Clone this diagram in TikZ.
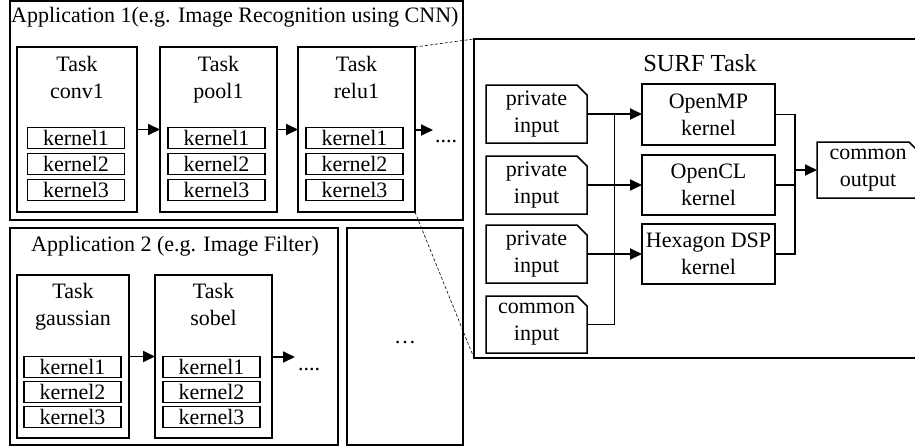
\documentclass[tikz,border=0pt]{standalone}
\usepackage{fontspec}
\setmainfont{Liberation Serif}
\usetikzlibrary{arrows.meta,calc}

\tikzset{
  frame/.style={draw, line width=1.5pt, inner sep=0pt, outer sep=0pt, anchor=north west, align=center},
  kbox/.style={draw, line width=1.8pt, inner sep=0pt, outer sep=0pt, minimum height=21pt},
  doc/.style={inner sep=0pt, outer sep=0pt, anchor=north west, align=center, minimum width=101pt, minimum height=58pt},
  lbl/.style={inner sep=0pt, align=center},
  tasklbl/.style={lbl, text depth=0pt},
  conn/.style={line width=1.8pt},
  arr/.style={conn, -{Triangle[length=12pt,width=11pt]}},
  zoomline/.style={line width=0.6pt, dash pattern=on 3pt off 2pt},
}

% outline of a data node: rectangle with its top right corner cut off
\newcommand\docframe[1]{%
  \draw[line width=1.5pt] (#1.south west) -- (#1.north west)
    -- ([xshift=-10pt]#1.north east) -- ([yshift=-10pt]#1.north east)
    -- (#1.south east) -- cycle;}

\begin{document}
\begin{tikzpicture}[x=1pt,y=-1pt,font=\fontsize{22}{27}\selectfont]
\useasboundingbox (0,0) rectangle (915,447);
\clip (0,0) rectangle (915,447);

% ---------------- Application 1 ----------------
\node[frame, minimum width=453pt, minimum height=219pt] (app1) at (10,1) {};
\node[lbl, anchor=west] (app1title) at (11,17) {Application 1(e.g. Image Recognition using CNN)};

\node[frame, minimum width=120pt, minimum height=165pt] (conv1) at (17,47) {};
\node[frame, minimum width=117pt, minimum height=165pt] (pool1) at (160,47) {};
\node[frame, minimum width=117pt, minimum height=165pt] (relu1) at (298,47) {};
\node[tasklbl] (conv1name) at ($(conv1.north)+(0,30)$) {Task\\conv1};
\node[tasklbl] (pool1name) at ($(pool1.north)+(0,30)$) {Task\\pool1};
\node[tasklbl] (relu1name) at ($(relu1.north)+(0,30)$) {Task\\relu1};

\foreach \t/\cx in {conv1/76, pool1/216.5, relu1/354.5}
  \foreach \k/\cy in {1/138, 2/164, 3/190}
    \node[kbox, minimum width=97pt] (\t-k\k) at (\cx,\cy) {kernel\k};

\draw[arr] (conv1.east) -- (pool1.west);
\draw[arr] (pool1.east) -- (relu1.west);
\coordinate (more1) at (433,130);
\draw[arr] (relu1.east |- more1) -- (more1);
\node[lbl, anchor=base] (dots1) at (446,142) {....};

% ---------------- Application 2 ----------------
\node[frame, minimum width=328pt, minimum height=217pt] (app2) at (10,228) {};
\node[lbl] (app2title) at (175,246) {Application 2 (e.g. Image Filter)};

\node[frame, minimum width=112pt, minimum height=163pt] (gauss) at (17,275) {};
\node[frame, minimum width=117pt, minimum height=163pt] (sobel) at (155,275) {};
\node[tasklbl] (gaussname) at ($(gauss.north)+(0,29.5)$) {Task\\gaussian};
\node[tasklbl] (sobelname) at ($(sobel.north)+(0,29.5)$) {Task\\sobel};

\foreach \t/\cx in {gauss/72.5, sobel/211.5}
  \foreach \k/\cy in {1/367, 2/392, 3/417}
    \node[kbox, minimum width=97pt] (\t-k\k) at (\cx,\cy) {kernel\k};

\draw[arr] (gauss.east) -- (sobel.west);
\coordinate (more2) at (295,357);
\draw[arr] (sobel.east |- more2) -- (more2);
\node[lbl, anchor=base] (dots2) at (309,370) {....};

% ---------------- further applications ----------------
\node[frame, minimum width=116pt, minimum height=217pt] (others) at (347,228) {};
\node[lbl] (othersdots) at (405,343) {…};

% ---------------- SURF task ----------------
\node[frame, minimum width=460pt, minimum height=319pt] (surf) at (474,39) {};
\node[lbl] (surftitle) at (700,63) {\fontsize{24.5}{28}\selectfont SURF Task};

\node[doc] (pin1) at (486,85) {private\\input};
\node[doc] (pin2) at (486,156) {private\\input};
\node[doc] (pin3) at (486,225) {private\\input};
\node[doc, minimum height=57pt] (cin) at (486,296) {common\\input};
\docframe{pin1}
\docframe{pin2}
\docframe{pin3}
\docframe{cin}

\node[frame, minimum width=133pt, minimum height=61pt] (omp) at (642,84) {OpenMP\\kernel};
\node[frame, minimum width=133pt, minimum height=60pt] (ocl) at (642,155) {OpenCL\\kernel};
\node[frame, minimum width=133pt, minimum height=60pt] (hex) at (642,224) {Hexagon DSP\\kernel};

\node[doc, minimum width=102pt, minimum height=56pt] (cout) at (817,142) {common\\output};
\docframe{cout}

% input side: common input feeds a bus shared by all kernels
\coordinate (inbus) at ($(pin1.east)!0.5!(pin1.east -| omp.west)$);
\draw[conn] (cin.east) -| (inbus);
\draw[arr] (pin1.east) -- (pin1.east -| omp.west);
\draw[arr] (pin2.east) -- (pin2.east -| ocl.west);
\draw[arr] (pin3.east) -- (pin3.east -| hex.west);

% output side: all kernels write the common output
\coordinate (outbus) at ($(omp.east)+(20,0)$);
\draw[conn] (omp.east) -- (outbus) |- (hex.east);
\draw[conn] (ocl.east) -- (ocl.east -| outbus);
\draw[arr] (outbus |- cout.west) -- (cout.west);

% zoom lines from Task relu1 to the SURF task
\draw[zoomline] (relu1.north east) -- (surf.north west);
\draw[zoomline] (relu1.south east) -- (surf.south west);
\end{tikzpicture}
\end{document}
